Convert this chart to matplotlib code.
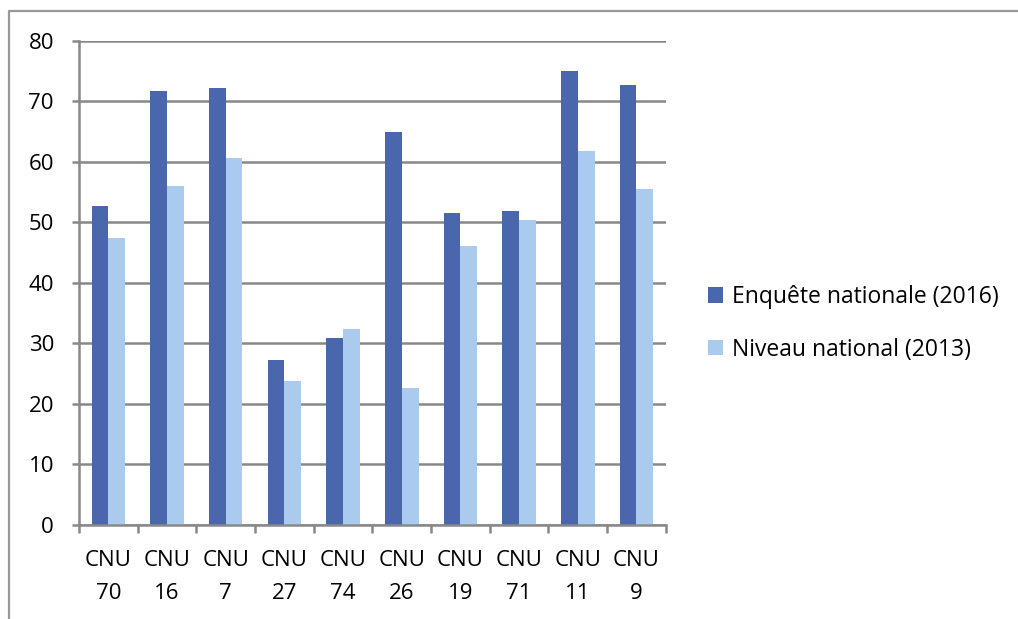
import matplotlib.pyplot as plt
import numpy as np
from matplotlib.lines import Line2D

categories = ["CNU\n70", "CNU\n16", "CNU\n7", "CNU\n27", "CNU\n74",
              "CNU\n26", "CNU\n19", "CNU\n71", "CNU\n11", "CNU\n9"]
enquete_2016 = [52.7, 71.7, 72.3, 27.3, 30.9, 65.0, 51.6, 51.9, 75.0, 72.7]
national_2013 = [47.4, 56.0, 60.6, 23.8, 32.4, 22.6, 46.1, 50.4, 61.8, 55.5]
yticks = list(range(0, 81, 10))

DARK = "#4A66AC"
LIGHT = "#AACBEE"
GRID = "#888888"

plt.rcParams["font.family"] = ["Open Sans", "DejaVu Sans"]

fig = plt.figure(figsize=(10.18, 6.19), dpi=100)
ax = fig.add_axes([0.0776, 0.1519, 0.654 - 0.0776, 0.9338 - 0.1519])

x = np.arange(len(categories))
w = 0.286
ax.bar(x - w / 2, enquete_2016, width=w, color=DARK, label="Enquête nationale (2016)")
ax.bar(x + w / 2, national_2013, width=w, color=LIGHT, label="Niveau national (2013)")

ax.set_xlim(-0.5, len(categories) - 0.5)
ax.set_ylim(0, 80)
ax.set_yticks(yticks)
ax.set_axisbelow(True)
ax.yaxis.grid(True, color=GRID, linewidth=1.8)

for side in ("top", "right"):
    ax.spines[side].set_visible(False)
for side in ("left", "bottom"):
    ax.spines[side].set_color(GRID)
    ax.spines[side].set_linewidth(1.8)

ax.set_xticks(x)
ax.set_xticklabels(categories, fontsize=16, linespacing=1.75)
ax.tick_params(axis="x", length=0, pad=18)
ax.set_xticks(np.arange(-0.5, len(categories)), minor=True)
ax.tick_params(axis="x", which="minor", length=6, width=1.8, color=GRID, direction="out")
ax.tick_params(axis="y", length=5, width=1.8, color=GRID, labelsize=16, pad=13)

fig.legend(loc="upper left", bbox_to_anchor=(0.675, 0.573), frameon=False,
           fontsize=16.5, handlelength=0.65, handleheight=0.65, handletextpad=0.4,
           labelspacing=1.25)

# outer chart frame (cropped on right and bottom)
fig.add_artist(Line2D([9 / 1018, 9 / 1018, 1.0], [0.0, 1 - 11 / 619, 1 - 11 / 619],
                      transform=fig.transFigure, color="#999999", linewidth=1.6))

fig.savefig("out.png", dpi=100)
